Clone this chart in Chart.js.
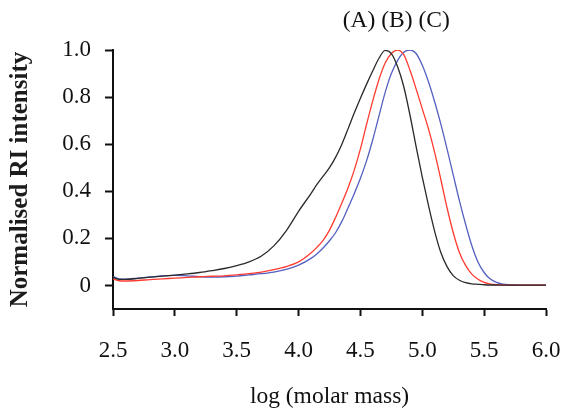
<!DOCTYPE html>
<html lang="en">

<head>
  <meta charset="UTF-8">
  <title>RI intensity</title>
  <style>
    html, body { margin: 0; padding: 0; background: #fff; }
    .grafico { width: 566px; height: 408px; }
  </style>
</head>

<body>
  <div class="grafico">
    <canvas id="myChart" width="566" height="408"></canvas>
  </div>

  <script src="https://cdn.jsdelivr.net/npm/chart.js"></script>
  <script>
    // log (molar mass)
    const logMassa = [2.5, 2.55, 2.6, 2.7, 2.8, 2.9, 3.0, 3.1, 3.2, 3.3, 3.4, 3.5, 3.6, 3.7, 3.8, 3.9, 4.0, 4.1, 4.15, 4.2, 4.25,
      4.3, 4.35, 4.4, 4.45, 4.5, 4.55, 4.6, 4.65, 4.7, 4.75, 4.8, 4.85, 4.9, 4.95, 5.0, 5.05, 5.1, 5.15, 5.2, 5.25,
      5.3, 5.35, 5.4, 5.45, 5.5, 5.55, 5.6, 5.65, 5.7, 5.8, 5.9, 6.0];

    const serieA = [0.035, 0.026, 0.026, 0.030, 0.035, 0.040, 0.044, 0.049, 0.055, 0.063, 0.072, 0.084, 0.100, 0.125, 0.168, 0.232, 0.315, 0.390, 0.430, 0.465, 0.500,
      0.545, 0.600, 0.665, 0.732, 0.795, 0.855, 0.912, 0.965, 0.998, 0.985, 0.930, 0.845, 0.725, 0.590, 0.460, 0.340, 0.230, 0.140, 0.080, 0.042,
      0.022, 0.012, 0.007, 0.005, 0.003, 0.002, 0.002, 0.001, 0.001, 0.001, 0.001, 0.001];

    const serieB = [0.027, 0.020, 0.019, 0.021, 0.025, 0.028, 0.031, 0.034, 0.037, 0.039, 0.041, 0.045, 0.050, 0.057, 0.067, 0.080, 0.100, 0.138, 0.163, 0.193, 0.235,
      0.290, 0.350, 0.415, 0.490, 0.580, 0.685, 0.785, 0.875, 0.945, 0.985, 1.000, 0.980, 0.915, 0.835, 0.750, 0.665, 0.565, 0.450, 0.330, 0.225,
      0.140, 0.085, 0.048, 0.026, 0.013, 0.006, 0.003, 0.002, 0.001, 0.001, 0.001, 0.001];

    const serieC = [0.038, 0.028, 0.027, 0.031, 0.036, 0.041, 0.043, 0.041, 0.037, 0.036, 0.037, 0.040, 0.045, 0.050, 0.057, 0.068, 0.086, 0.115, 0.135, 0.160, 0.190,
      0.225, 0.272, 0.330, 0.390, 0.455, 0.530, 0.620, 0.720, 0.820, 0.900, 0.955, 0.990, 1.000, 0.985, 0.935, 0.865, 0.780, 0.685, 0.580, 0.470,
      0.360, 0.260, 0.170, 0.100, 0.055, 0.027, 0.013, 0.006, 0.003, 0.001, 0.001, 0.001];

    const nomesSeries = ['(A)', '(B)', '(C)'];
    const ticksX = [2.5, 3.0, 3.5, 4.0, 4.5, 5.0, 5.5, 6.0];
    const ticksY = [0, 0.2, 0.4, 0.6, 0.8, 1.0];

    const fonte = '"Liberation Serif", "Times New Roman", serif';

    // "(A) (B) (C)" above the peaks
    const rotuloTopo = {
      id: 'rotuloTopo',
      afterDraw(chart) {
        const c = chart.ctx;
        const x = chart.scales.x.getPixelForValue(4.79);
        c.save();
        c.font = '23.5px ' + fonte;
        c.fillStyle = '#111';
        c.textAlign = 'center';
        c.textBaseline = 'middle';
        c.fillText(nomesSeries.join(' '), x, 21);
        c.restore();
      }
    };

    const paraPontos = (ys) => logMassa.map((x, i) => ({ x: x, y: ys[i] }));

    const ctx = document.getElementById('myChart').getContext('2d');

    new Chart(ctx, {
      type: 'line',
      data: {
        datasets: [
          { label: nomesSeries[0], data: paraPontos(serieA), borderColor: '#2a2a2a' },
          { label: nomesSeries[1], data: paraPontos(serieB), borderColor: '#ff3b30' },
          { label: nomesSeries[2], data: paraPontos(serieC), borderColor: '#5560c0' }
        ]
      },
      options: {
        responsive: false,
        animation: false,
        layout: { padding: { top: 50, right: 20, left: 0, bottom: 0 } },
        elements: {
          point: { radius: 0 },
          line: { borderWidth: 1.3, cubicInterpolationMode: 'monotone', fill: false }
        },
        scales: {
          x: {
            type: 'linear',
            min: 2.5,
            max: 6.0,
            afterFit: (s) => {
              s.height = 99;
              s.paddingLeft = 0;
              s.paddingRight = 0;
            },
            afterBuildTicks: (s) => { s.ticks = ticksX.map(v => ({ value: v })); },
            ticks: {
              color: '#111',
              padding: 21,
              maxRotation: 0,
              font: { family: fonte, size: 23 },
              callback: (v) => Number(v).toFixed(1)
            },
            grid: { drawOnChartArea: false, tickLength: 7, tickWidth: 2, tickColor: '#111' },
            border: { color: '#111', width: 2 },
            title: {
              display: true,
              text: 'log (molar mass)',
              color: '#111',
              font: { family: fonte, size: 23.5 },
              padding: { top: 0, bottom: -3 }
            }
          },
          y: {
            min: -0.1,
            max: 1.0,
            afterFit: (s) => { s.width = 113; },
            afterBuildTicks: (s) => { s.ticks = ticksY.map(v => ({ value: v })); },
            ticks: {
              color: '#111',
              padding: 14,
              font: { family: fonte, size: 23 },
              callback: (v) => v === 0 ? '0' : Number(v).toFixed(1)
            },
            grid: { drawOnChartArea: false, tickLength: 8, tickWidth: 2, tickColor: '#111' },
            border: { color: '#111', width: 2 },
            title: {
              display: true,
              text: 'Normalised RI intensity',
              color: '#1c1c1c',
              font: { family: fonte, size: 25, weight: 'bold' },
              padding: { top: 6, bottom: 0 }
            }
          }
        },
        plugins: {
          legend: { display: false },
          tooltip: { enabled: false },
          title: { display: false }
        }
      },
      plugins: [rotuloTopo]
    });
  </script>
</body>

</html>
